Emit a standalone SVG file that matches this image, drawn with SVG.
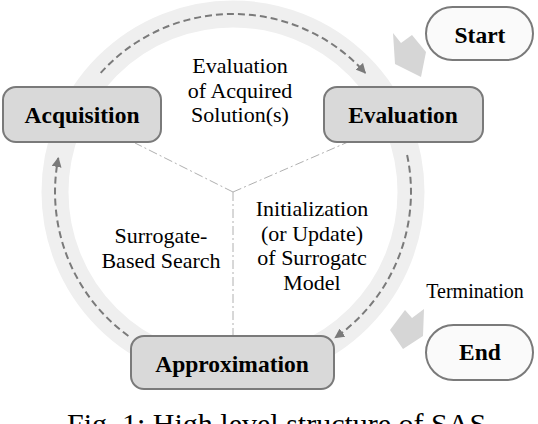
<svg xmlns="http://www.w3.org/2000/svg" width="538" height="424" viewBox="0 0 538 424">
<defs>
<style>
.box{fill:#d9d9d9;stroke:#7a7a7a;stroke-width:2}
.pill{fill:#fafafa;stroke:#7a7a7a;stroke-width:2}
.lbl{font-family:"Liberation Serif","Times New Roman",serif;font-weight:bold;font-size:23.5px;fill:#000;text-anchor:middle}
.txt{font-family:"Liberation Serif","Times New Roman",serif;font-size:22px;fill:#000;text-anchor:middle}
.dash{fill:none;stroke:#7a7a7a;stroke-width:2;stroke-dasharray:7 4}
.dd{fill:none;stroke:#b0b0b0;stroke-width:1;stroke-dasharray:9 3 2 3}
.blk{fill:#d6d6d6}
</style>
<marker id="ah" viewBox="0 0 10 10" refX="9" refY="5" markerWidth="5" markerHeight="5" orient="auto" markerUnits="strokeWidth">
<path d="M0,0 L10,5 L0,10 z" fill="#7a7a7a"/>
</marker>
</defs>
<rect width="538" height="424" fill="#fff"/>
<circle cx="233" cy="192" r="178" fill="none" stroke="#efefef" stroke-width="27"/>
<g id="connectors">
<path class="dash" d="M100.7,72.9 A178,178 0 0 1 365.3,72.9" marker-end="url(#ah)"/>
<path class="dash" d="M407.1,155 A178,178 0 0 1 335.1,337.8" marker-end="url(#ah)"/>
<path class="dash" d="M128.4,336 A178,178 0 0 1 58.3,158" marker-end="url(#ah)"/>
<path class="dd" d="M233,192 L135,143"/>
<path class="dd" d="M233,192 L348,142"/>
<path class="dd" d="M233,192 L233,336"/>
<polygon class="blk" points="393,33 401,43 412,35 426,52 421,77 395,64"/>
<polygon class="blk" points="390,330 405,310 412,318 424,309 423,336 403,349"/>
</g>
<g id="acquisition">
<rect class="box" x="3" y="87" width="158" height="55" rx="13"/>
<text class="lbl" x="82" y="123">Acquisition</text>
</g>
<g id="evaluation">
<rect class="box" x="324" y="87" width="159" height="55" rx="13"/>
<text class="lbl" x="403" y="123">Evaluation</text>
</g>
<g id="approximation">
<rect class="box" x="131" y="336" width="203" height="53" rx="13"/>
<text class="lbl" x="232" y="372">Approximation</text>
</g>
<g id="start">
<rect class="pill" x="426" y="7" width="107" height="53" rx="26.5"/>
<text class="lbl" x="480" y="43">Start</text>
</g>
<g id="end">
<rect class="pill" x="426" y="325" width="107" height="55" rx="27.5"/>
<text class="lbl" x="480" y="360">End</text>
</g>
<g id="labels">
<text class="txt" x="240" y="73">Evaluation</text>
<text class="txt" x="240" y="98">of Acquired</text>
<text class="txt" x="240" y="122">Solution(s)</text>
<text class="txt" x="161" y="243">Surrogate-</text>
<text class="txt" x="161" y="268">Based Search</text>
<text class="txt" x="312" y="216">Initialization</text>
<text class="txt" x="312" y="241">(or Update)</text>
<text class="txt" x="312" y="265">of Surrogatc</text>
<text class="txt" x="312" y="290">Model</text>
<text class="txt" x="475" y="298" style="font-size:20px">Termination</text>
<text class="txt" x="67" y="434" style="font-size:30px;text-anchor:start">Fig. 1: High level structure of SAS</text>
</g>
</svg>
